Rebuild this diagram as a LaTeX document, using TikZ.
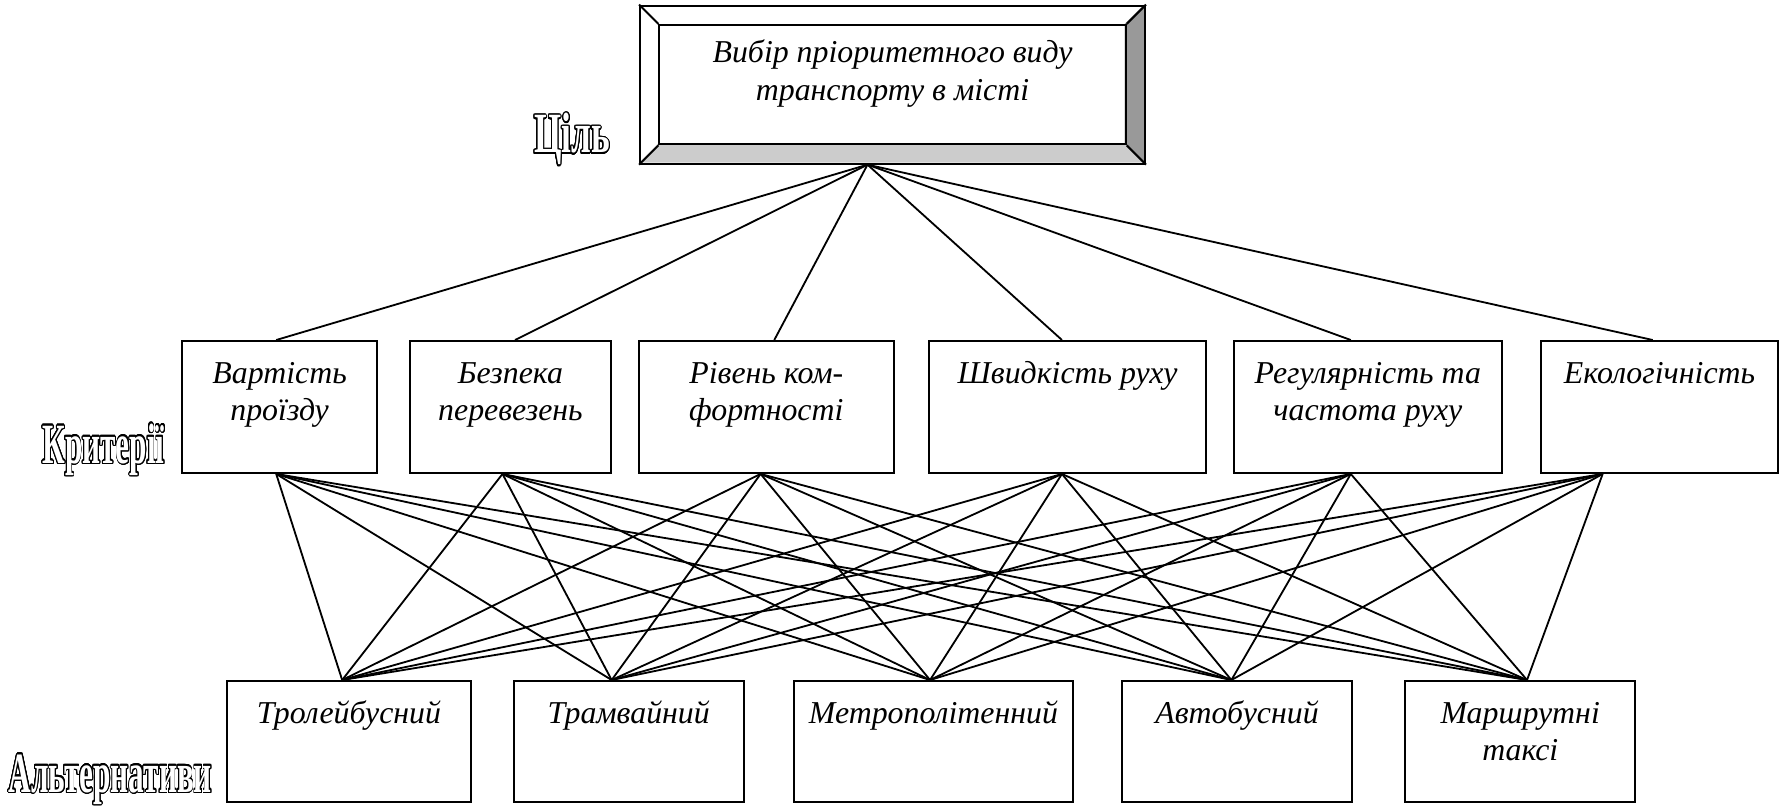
\documentclass[tikz,border=0pt]{standalone}
\usepackage{fontspec}
\setmainfont{Liberation Serif}
\usepackage{graphicx}
\usepackage[copies]{contour}
\contourlength{0.65pt}
\contournumber{24}
\newlength{\px}
\setlength{\px}{0.5pt}
% text at the top of a box: width, height, text
\newcommand{\boxtext}[4][7pt]{\parbox[t][#3][t]{#2}{\centering\vspace*{#1}\strut #4}}
% hollow, narrow level captions
\newcommand{\levtext}[2][0.55]{\scalebox{#1}[1]{\color{white}\contour{black}{#2}}}

\begin{document}
\begin{tikzpicture}[x=0.5pt,y=-0.5pt,
    box/.style={draw,line width=0.9pt,inner sep=0pt,anchor=north west,
      font=\fontsize{14}{16.5}\selectfont\itshape},
    lev/.style={inner sep=0pt,font=\fontsize{25}{30}\selectfont\bfseries},
    link/.style={line width=0.8pt}]
    \useasboundingbox (0,0) rectangle (1568,708);

    % goal, bevelled frame
    \fill[gray!40] (562,143) -- (579,126) -- (989,126) -- (1006,143) -- cycle;
    \fill[gray!80] (1006,4) -- (989,21) -- (989,126) -- (1006,143) -- cycle;
    \node[box,minimum width=444\px,minimum height=139\px] (goal) at (562,4) {};
    \node[box] (goaltxt) at (579,21) {\boxtext[5pt]{410\px}{105\px}{Вибір пріоритетного виду\\транспорту в місті}};
    \draw[line width=0.9pt] (goal.north west) -- (goaltxt.north west);
    \draw[line width=0.9pt] (goal.north east) -- (goaltxt.north east);
    \draw[line width=0.9pt] (goal.south west) -- (goaltxt.south west);
    \draw[line width=0.9pt] (goal.south east) -- (goaltxt.south east);

    % criteria
    \node[box] (k1) at (159,299)  {\boxtext{172\px}{116\px}{Вартість\\проїзду}};
    \node[box] (k2) at (360,299)  {\boxtext{176\px}{116\px}{Безпека\\перевезень}};
    \node[box] (k3) at (561,299)  {\boxtext{224\px}{116\px}{Рівень ком-\\фортності}};
    \node[box] (k4) at (816,299)  {\boxtext{244\px}{116\px}{Швидкість руху}};
    \node[box] (k5) at (1084,299) {\boxtext{236\px}{116\px}{Регулярність та\\частота руху}};
    \node[box] (k6) at (1354,299) {\boxtext{209\px}{116\px}{Екологічність}};

    % alternatives
    \node[box] (a1) at (199,598)  {\boxtext{214\px}{106\px}{Тролейбусний}};
    \node[box] (a2) at (451,598)  {\boxtext{202\px}{106\px}{Трамвайний}};
    \node[box] (a3) at (697,598)  {\boxtext{246\px}{106\px}{Метрополітенний}};
    \node[box] (a4) at (986,598)  {\boxtext{202\px}{106\px}{Автобусний}};
    \node[box] (a5) at (1235,598) {\boxtext{202\px}{106\px}{Маршрутні\\таксі}};

    % level captions
    \node[lev] (lgoal) at (503,123) {\levtext[0.62]{Ціль}};
    \node[lev] (lcrit) at (91,396)  {\levtext{Критерії}};
    \node[lev] (lalt)  at (97,686)  {\levtext{Альтернативи}};

    % goal -> criteria
    \foreach \k/\dx in {1/-3,2/4,3/7,4/-5,5/-15,6/-6}
      \draw[link] ([xshift=-22\px]goal.south) -- ([xshift=\dx\px]k\k.north);
    % criteria -> alternatives
    \foreach \k/\dk in {1/-3,2/-7,3/-5,4/-5,5/-15,6/-50}
      \foreach \a/\da in {1/-6,2/-15,3/-3,4/-5,5/6}
        \draw[link] ([xshift=\dk\px]k\k.south) -- ([xshift=\da\px]a\a.north);
\end{tikzpicture}
\end{document}
